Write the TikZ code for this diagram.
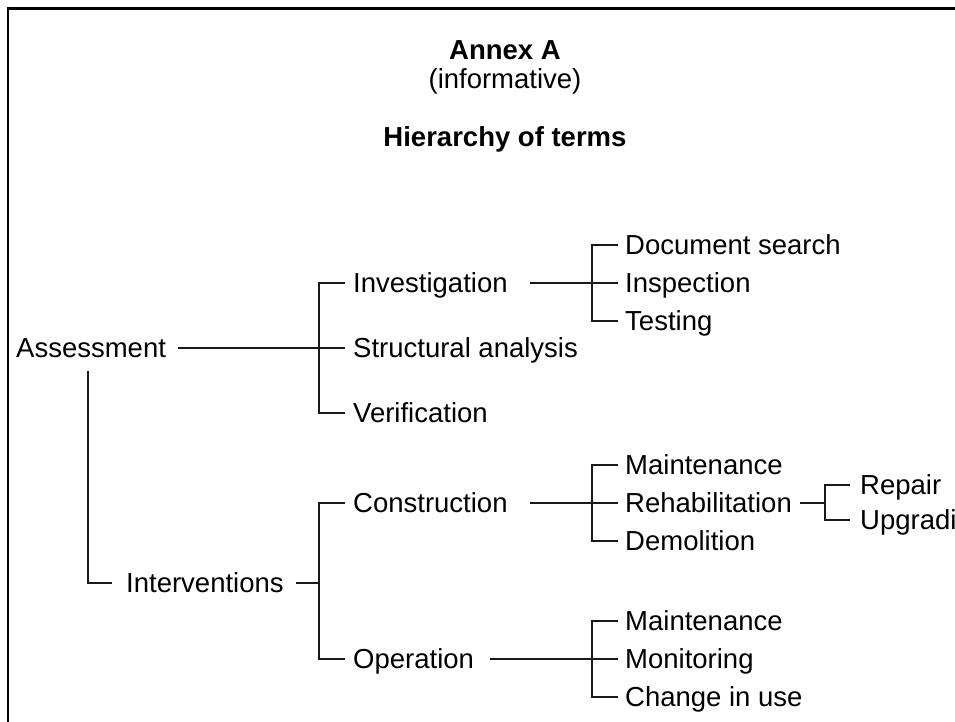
\documentclass[tikz,border=0pt]{standalone}
\usepackage{fontspec}
\setmainfont{Liberation Sans}
\begin{document}
\begin{tikzpicture}[x=1pt,y=-1pt,
    term/.style={anchor=west,inner sep=0pt,text height=19.5pt,text depth=0pt,font=\fontsize{27.5}{33}\selectfont},
    head/.style={anchor=base,inner sep=0pt,font=\fontsize{27.5}{33}\selectfont\bfseries},
    link/.style={line width=1.6pt,black!90}]
    \clip (0,0) rectangle (955,722);
    \fill [white] (0,0) rectangle (955,722);
    \draw [line width=2.7pt] (8,722) -- (8,8.5) -- (955,8.5);
    \node [head] (annex) at (505,60) {Annex A};
    \node [head,font=\fontsize{27.5}{33}\selectfont] (inform) at (505,89) {(informative)};
    \node [head] (hier) at (505,147) {Hierarchy of terms};
    \coordinate (top) at (319,0);
    \coordinate (sub) at (592,0);
    \coordinate (leaf) at (825,0);
    \node [term] (ass) at (16,348) {Assessment};
    \node [term] (inv) at (353,283) {Investigation};
    \node [term] (str) at (353,348) {Structural analysis};
    \node [term] (ver) at (353,413) {Verification};
    \node [term] (doc) at (625,245) {Document search};
    \node [term] (insp) at (625,283) {Inspection};
    \node [term] (test) at (625,321) {Testing};
    \node [term] (intv) at (126,583) {Interventions};
    \node [term] (con) at (353,503) {Construction};
    \node [term] (opr) at (353,659) {Operation};
    \node [term] (mnt) at (625,465) {Maintenance};
    \node [term] (reh) at (625,503) {Rehabilitation};
    \node [term] (dem) at (625,541) {Demolition};
    \node [term] (rep) at (860,485) {Repair};
    \node [term] (upg) at (860,520) {Upgrading};
    \node [term] (mnt2) at (625,621) {Maintenance};
    \node [term] (mon) at (625,659) {Monitoring};
    \node [term] (chg) at (625,697) {Change in use};
    \draw [link] ([xshift=12pt]ass.east) -- ([xshift=-8pt]str.west);
    \draw [link] ([xshift=-8pt]inv.west) -| (top |- ver) -- ([xshift=-8pt]ver.west);
    \draw [link] ([xshift=22pt]inv.east) -- ([xshift=-7pt]insp.west);
    \draw [link] ([xshift=-7pt]doc.west) -| (sub |- test) -- ([xshift=-7pt]test.west);
    \draw [link] ([xshift=-3pt,yshift=-13pt]ass.south) |- ([xshift=-14pt]intv.west);
    \draw [link] ([xshift=12pt]intv.east) -- (top |- intv);
    \draw [link] ([xshift=-8pt]con.west) -| (top |- opr) -- ([xshift=-8pt]opr.west);
    \draw [link] ([xshift=22pt]con.east) -- ([xshift=-7pt]reh.west);
    \draw [link] ([xshift=-7pt]mnt.west) -| (sub |- dem) -- ([xshift=-7pt]dem.west);
    \draw [link] ([xshift=8pt]reh.east) -- (leaf |- reh);
    \draw [link] ([xshift=-10pt]rep.west) -| (leaf |- upg) -- ([xshift=-10pt]upg.west);
    \draw [link] ([xshift=16pt]opr.east) -- ([xshift=-7pt]mon.west);
    \draw [link] ([xshift=-7pt]mnt2.west) -| (sub |- chg) -- ([xshift=-7pt]chg.west);
\end{tikzpicture}
\end{document}
